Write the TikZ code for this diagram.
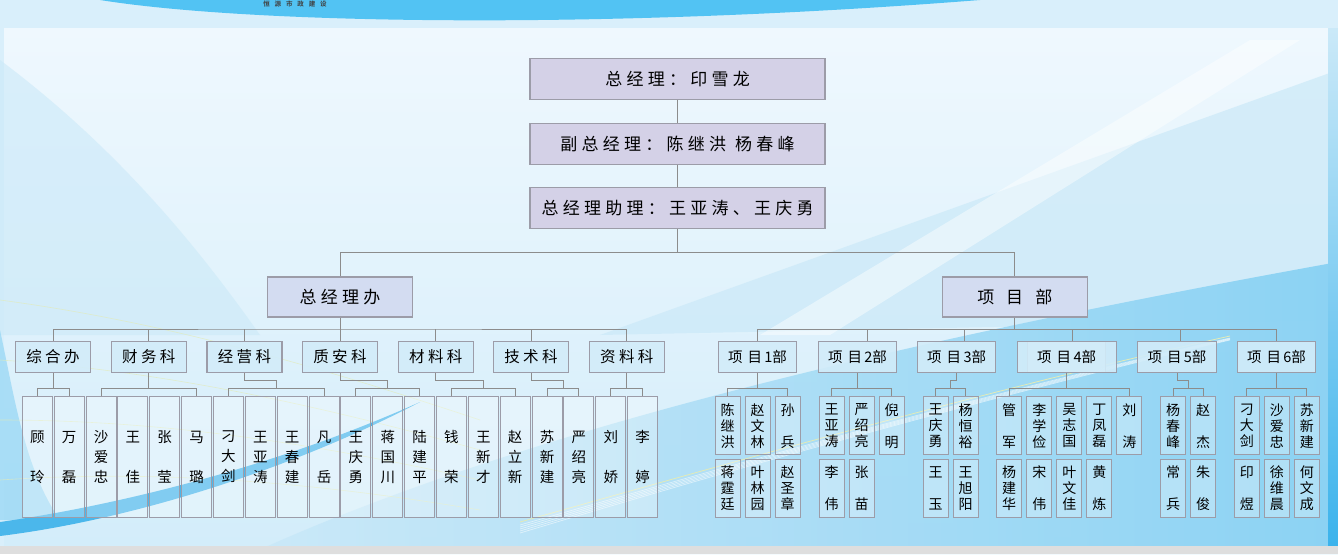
\documentclass[tikz,border=0pt]{standalone}
\usepackage{fontspec}
\usepackage{xcolor}
\usetikzlibrary{calc}
\newfontfamily\cjk{Noto Sans CJK SC}
\newfontfamily\cjkwide[LetterSpace=25]{Noto Sans CJK SC}
\newfontfamily\cjkmid[LetterSpace=22]{Noto Sans CJK SC}
\newfontfamily\cjklogo[LetterSpace=75]{Noto Sans CJK SC Bold}
\definecolor{boxline}{HTML}{9C9CA8}
\definecolor{linkgray}{HTML}{8C8C8C}
\definecolor{topfill}{HTML}{D4D1E7}
\definecolor{secfill}{HTML}{D3DCF1}
\definecolor{deptfill}{HTML}{D2ECF9}
\definecolor{bgbase}{HTML}{D9EFFB}
\definecolor{paneltop}{HTML}{EFF8FE}
\definecolor{panelbot}{HTML}{D3EDFA}
\definecolor{arcblue}{HTML}{52C3F3}
\definecolor{wavelight}{HTML}{CBE9F8}
\definecolor{wavedeep}{HTML}{88D1F3}
\definecolor{swoosh}{HTML}{4BB7EB}
\definecolor{edgeblue}{HTML}{3BB3EC}
\definecolor{faint}{HTML}{E2EBB8}
\newcommand\nametwo[2]{#1\\[\baselineskip]#2}
\newcommand\namethree[3]{#1\\#2\\#3}

\begin{document}
\begin{tikzpicture}[x=1pt,y=-1pt,
  link/.style={draw=linkgray,line width=.9pt},
  topbox/.style={draw=boxline,line width=1.2pt,fill=topfill,minimum width=295pt,minimum height=41pt,inner sep=0pt,font=\cjkwide\fontsize{17}{20}\selectfont},
  secbox/.style={draw=boxline,line width=1.1pt,fill=secfill,minimum width=145pt,minimum height=40pt,inner sep=0pt,font=\cjkwide\fontsize{17}{20}\selectfont},
  deptbox/.style={draw=boxline,line width=1.1pt,fill=deptfill,fill opacity=.9,text opacity=1,minimum width=75pt,minimum height=31.3pt,inner sep=0pt,font=\cjkmid\fontsize{15.5}{18}\selectfont},
  projbox/.style={deptbox,minimum width=78.4pt,font=\cjk\fontsize{14.5}{18}\selectfont},
  staff/.style={draw=boxline,line width=1pt,fill=white,fill opacity=.3,text opacity=1,minimum width=30pt,minimum height=120.7pt,inner sep=0pt,align=center,font=\cjk\fontsize{14.5}{20}\selectfont},
  pstaff/.style={staff,minimum width=25pt,minimum height=58.3pt,font=\cjk\fontsize{14}{16}\selectfont}]
\useasboundingbox (0,0) rectangle (1338,554);

% background
\fill[bgbase] (0,0) rectangle (1338,554);
\shade[top color=paneltop,bottom color=panelbot] (4,28) rectangle (1328,546);
\fill[arcblue] (100,0) .. controls (250,24) and (600,30) .. (980,0) -- cycle;
\node[font=\cjklogo\fontsize{6.5}{7}\selectfont,text=black!75,inner sep=0pt] (logo) at (295,3.6) {恒源市政建设};
\fill[wavelight,opacity=.7] (600,335) -- (1338,70) -- (1338,320) -- cycle;
\fill[white,opacity=.45] (760,335) -- (1250,40) -- (1300,40) -- (830,335) -- cycle;
\fill[wavelight,opacity=.6] (0,60) .. controls (120,150) and (200,250) .. (260,335) -- (0,335) -- cycle;
\shade[left color=wavelight,right color=wavedeep,opacity=.95] (250,554) .. controls (500,440) and (850,350) .. (1338,262) -- (1338,554) -- cycle;
\fill[wavedeep,opacity=.6] (0,330) .. controls (15,400) and (25,470) .. (60,520) -- (0,520) -- cycle;
\foreach \k in {0,...,3}
  \draw[faint,opacity=.7,line width=.6pt] (0,300+60*\k) .. controls (150,320+50*\k) and (300,360+40*\k) .. (480,420+30*\k);
\foreach \k in {0,...,4}
  \draw[white,opacity=.55,line width=.7pt] (520,525+2*\k) .. controls (750,460+\k) and (1000,390+\k) .. (1230,338+.5*\k);
\draw[faint,line width=.8pt] (520,522) .. controls (750,457) and (1000,387) .. (1230,336);
\fill[swoosh] (0,522) .. controls (120,505) and (280,465) .. (420,402) .. controls (290,470) and (130,520) .. (0,536) -- cycle;
\shade[top color=wavelight,bottom color=edgeblue] (1328,28) rectangle (1338,546);
\fill[black!13] (0,546) rectangle (1338,554);

% management
\node[topbox] (gm) at (677.5,78.7) {总经理：印雪龙};
\node[topbox] (vgm) at (677.5,143.8) {副总经理：陈继洪\hspace{9pt}杨春峰};
\node[topbox] (agm) at (677.5,208) {总经理助理：王亚涛、王庆勇};
\node[secbox] (off) at (340,297) {总经理办};
\node[secbox] (pd) at (1014.75,297) {项\hspace{12pt}目\hspace{12pt}部};
\coordinate (hub) at (677.5,252.5);
\draw[link] (gm) -- (vgm);
\draw[link] (vgm) -- (agm);
\draw[link] (agm) -- (hub);
\draw[link] (off.north) |- (hub) -| (pd.north);

% departments
\foreach \x/\nm [count=\i] in {53/综合办,148.8/财务科,244.5/经营科,340/质安科,435.8/材料科,531/技术科,626.8/资料科}
  \node[deptbox] (d\i) at (\x,356.7) {\nm};
\foreach \x/\nm [count=\i] in {757.5/1,857.5/2,956.7/3,1066.7/4,1177/5,1276.5/6}
  \node[projbox] (p\i) at (\x,356.7) {项\hspace{5pt}目\,\nm 部};
\node[projbox,minimum width=98.7pt] at (p4) {项\hspace{5pt}目\,4部};
\coordinate (obus) at (off.south |- 0,329);
\draw[link] (off.south) -- (obus);
\draw[link] (d1.north) |- (obus) -| (d7.north);
\foreach \d in {d2,d3,d4,d5,d6}
  \draw[link] (\d.north) -- (\d.north |- obus);
\draw[link] (pd.south) -- (pd.south |- obus);
\draw[link] (p1.north |- obus) -- (p6.north |- obus);
\foreach \p/\dx in {p1/0,p2/10,p3/7.6,p4/5.3,p5/3,p6/.2}
  \draw[link] ($(\p.north)+(\dx,0)$) -- ++(0,-12);

% staff of the office
\foreach \nm [count=\i] in {\nametwo{顾}{玲},\nametwo{万}{磊},\namethree{沙}{爱}{忠},\nametwo{王}{佳},\nametwo{张}{莹},\nametwo{马}{璐},\namethree{刁}{大}{剑},\namethree{王}{亚}{涛},\namethree{王}{春}{建},\nametwo{凡}{岳},\namethree{王}{庆}{勇},\namethree{蒋}{国}{川},\namethree{陆}{建}{平},\nametwo{钱}{荣},\namethree{王}{新}{才},\namethree{赵}{立}{新},\namethree{苏}{新}{建},\namethree{严}{绍}{亮},\nametwo{刘}{娇},\nametwo{李}{婷}}
  \node[staff] (s\i) at ({37.3+(\i-1)*31.86},457) {\nm};

% staff of the projects
\foreach \x/\nm [count=\i] in {727.7/\namethree{陈}{继}{洪},757.7/\namethree{赵}{文}{林},787.7/\nametwo{孙}{兵},831.7/\namethree{王}{亚}{涛},861.7/\namethree{严}{绍}{亮},891.5/\nametwo{倪}{明},935.5/\namethree{王}{庆}{勇},965.5/\namethree{杨}{恒}{裕},1009.2/\nametwo{管}{军},1039.3/\namethree{李}{学}{俭},1069.3/\namethree{吴}{志}{国},1099.3/\namethree{丁}{凤}{磊},1129.3/\nametwo{刘}{涛},1173.2/\namethree{杨}{春}{峰},1203/\nametwo{赵}{杰},1246.8/\namethree{刁}{大}{剑},1276.8/\namethree{沙}{爱}{忠},1306.8/\namethree{苏}{新}{建}}
  \node[pstaff] (u\i) at (\x,425.8) {\nm};
\foreach \x/\nm [count=\i] in {727.7/\namethree{蒋}{霆}{廷},757.7/\namethree{叶}{林}{园},787.7/\namethree{赵}{圣}{章},831.7/\nametwo{李}{伟},861.7/\nametwo{张}{苗},935.5/\nametwo{王}{玉},965.5/\namethree{王}{旭}{阳},1009.2/\namethree{杨}{建}{华},1039.3/\nametwo{宋}{伟},1069.3/\namethree{叶}{文}{佳},1099.3/\nametwo{黄}{炼},1173.2/\nametwo{常}{兵},1203/\nametwo{朱}{俊},1246.8/\nametwo{印}{煜},1276.8/\namethree{徐}{维}{晨},1306.8/\namethree{何}{文}{成}}
  \node[pstaff] (v\i) at (\x,488.2) {\nm};

% brackets
\foreach \d/\a/\b/\t in {d1/s1/s2/.5,d2/s3/s6/.5,d3/s7/s10/.5,d4/s11/s13/.5,d5/s14/s16/.5,d6/s17/s18/.5,d7/s19/s20/.5,p1/u1/u3/.5,p2/u4/u6/.43,p3/u7/u8/.5,p4/u9/u13/.48,p5/u14/u15/.5,p6/u16/u18/.5}{
  \draw[link] (\d.south) |- ($(\a.north)!\t!(\b.north)+(0,-16)$) -- ++(0,8.6);
  \draw[link] (\a.north) -- ++(0,-7.4) -| (\b.north);}
\end{tikzpicture}
\end{document}
